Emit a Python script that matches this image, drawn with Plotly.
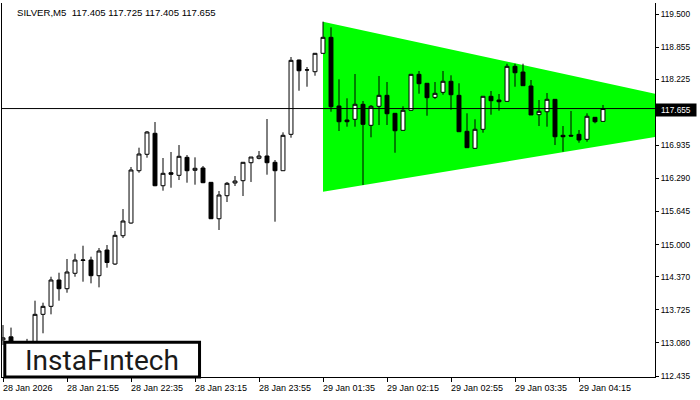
import plotly.graph_objects as go

# ---- data ----
opens = [113.14, 113.20, 113.04, 112.85, 113.02, 113.639, 113.795, 114.309, 114.139, 114.44,
         114.69, 114.699, 114.393, 114.894, 114.621, 115.173, 115.421, 116.442, 116.762, 117.172,
         116.149, 116.403, 116.352, 116.703, 116.45, 116.495, 116.215, 115.505, 115.954, 116.202,
         116.247, 116.598, 116.684, 116.729, 116.606, 116.442, 117.152, 118.602, 118.407, 118.374,
         118.733, 119.045, 117.705, 117.431, 117.445, 117.738, 117.328, 117.699, 117.913, 117.562,
         117.23, 117.621, 118.323, 118.148, 117.874, 117.972, 118.187, 117.913, 117.211, 116.879,
         117.25, 117.894, 117.822, 117.796, 118.479, 118.368, 118.095, 117.535, 117.593, 117.835,
         117.133, 117.133, 117.152, 117.055, 117.484, 117.405]
highs = [113.43, 113.38, 113.10, 113.16, 113.905, 113.866, 114.373, 114.451, 114.719, 114.822,
         114.978, 114.764, 114.933, 114.992, 115.265, 115.694, 116.514, 116.891, 117.217, 117.392,
         116.69, 116.807, 116.943, 116.748, 116.703, 116.534, 116.22, 116.046, 116.222, 116.338,
         116.61, 116.71, 116.826, 117.451, 116.651, 117.191, 118.661, 118.61, 118.466, 118.74,
         119.35, 119.24, 118.226, 117.855, 118.329, 117.802, 117.724, 118.29, 118.173, 117.565,
         117.699, 118.33, 118.388, 118.15, 118.173, 118.388, 118.304, 118.148, 117.562, 117.445,
         117.9, 117.997, 117.939, 118.53, 118.53, 118.53, 118.212, 117.822, 117.958, 117.84,
         117.314, 117.607, 117.236, 117.562, 117.49, 117.725]
lows = [113.04, 112.98, 112.83, 112.75, 112.98, 113.269, 113.639, 113.905, 114.061, 114.373,
        114.276, 114.244, 114.166, 114.549, 114.602, 115.128, 115.408, 116.403, 116.696, 116.14,
        116.052, 116.11, 116.26, 116.208, 116.169, 116.2, 115.50, 115.285, 115.831, 116.143,
        115.948, 116.222, 116.664, 116.364, 115.447, 116.44, 117.086, 118.003, 118.081, 118.296,
        118.73, 117.593, 117.217, 117.301, 117.301, 116.163, 117.094, 117.334, 117.334, 116.793,
        117.23, 117.62, 117.945, 117.515, 117.841, 117.925, 117.632, 117.2, 116.89, 116.878,
        117.184, 117.535, 117.613, 117.796, 118.081, 118.10, 117.529, 117.314, 117.301, 116.943,
        116.813, 117.105, 116.988, 117.008, 117.367, 117.405]
closes = [113.18, 113.10, 112.94, 113.02, 113.639, 113.795, 114.309, 114.139, 114.465, 114.699,
          114.70, 114.393, 114.875, 114.65, 115.181, 115.46, 116.456, 116.768, 117.197, 116.149,
          116.391, 116.372, 116.723, 116.442, 116.489, 116.208, 115.505, 115.968, 116.196, 116.241,
          116.606, 116.709, 116.729, 116.598, 116.442, 117.133, 118.596, 118.393, 118.41, 118.733,
          119.045, 117.691, 117.398, 117.398, 117.738, 117.347, 117.699, 117.913, 117.554, 117.222,
          117.621, 118.323, 118.14, 117.867, 117.952, 118.187, 117.925, 117.203, 116.891, 117.25,
          117.894, 117.808, 117.788, 118.479, 118.354, 118.101, 117.53, 117.601, 117.835, 117.105,
          117.105, 117.119, 117.041, 117.504, 117.398, 117.655]
bars = list(range(len(closes)))

# time axis labels (bar index -> label)
tick_bars = [0, 8, 16, 24, 32, 40, 48, 56, 64, 72]
tick_labels = ["28 Jan 2026", "28 Jan 21:55", "28 Jan 22:35", "28 Jan 23:15", "28 Jan 23:55",
               "29 Jan 01:35", "29 Jan 02:15", "29 Jan 02:55", "29 Jan 03:35", "29 Jan 04:15"]

# price axis labels
price_ticks = [119.5, 118.855, 118.225, 117.58, 116.935, 116.29, 115.645, 115.0,
               114.37, 113.725, 113.08, 112.435]
price_labels = ["119.500", "118.855", "118.225", "117.580", "116.935", "116.290", "115.645",
                "115.000", "114.370", "113.725", "113.080", "112.435"]

# symmetrical triangle pattern (bar index, price)
tri_bars = [40, 81.6, 81.6, 40]
tri_prices = [119.35, 117.94, 117.10, 116.03]

symbol = "SILVER,M5"
last_bar = {"open": 117.405, "high": 117.725, "low": 117.405, "close": 117.655}
current_price = 117.655

FONT = "Liberation Sans, Arial, sans-serif"

fig = go.Figure()

fig.add_trace(go.Candlestick(
    x=bars, open=opens, high=highs, low=lows, close=closes,
    increasing=dict(line=dict(color="black", width=1), fillcolor="white"),
    decreasing=dict(line=dict(color="black", width=1), fillcolor="black"),
    whiskerwidth=0, showlegend=False))

# triangle pattern drawn beneath the candles
tri_path = "M " + " L ".join(f"{b},{p}" for b, p in zip(tri_bars, tri_prices)) + " Z"
fig.add_shape(type="path", xref="x", yref="y", path=tri_path,
              fillcolor="#00FF00", line=dict(width=0), layer="below")

fig.add_hline(y=current_price, line=dict(color="black", width=1))

fig.update_layout(
    width=700, height=400,
    margin=dict(l=2, r=45, t=3, b=23),
    paper_bgcolor="white", plot_bgcolor="white",
    showlegend=False,
    font=dict(family=FONT, color="black", size=9),
    xaxis=dict(
        range=[-0.125, 81.5], rangeslider=dict(visible=False),
        showgrid=False, zeroline=False,
        showline=True, linecolor="black", linewidth=1,
        tickmode="array", tickvals=tick_bars, ticktext=[""] * len(tick_bars),
        ticks="outside", ticklen=4, tickcolor="black", tickwidth=1,
    ),
    yaxis=dict(
        side="right", range=[112.416, 119.715],
        showgrid=False, zeroline=False,
        showline=True, mirror=True, linecolor="black", linewidth=1,
        tickmode="array", tickvals=price_ticks, ticktext=price_labels,
        ticks="outside", ticklen=3, tickcolor="black", tickwidth=1,
        tickfont=dict(size=8.3, family=FONT, color="black"),
    ),
)

# time labels, left-aligned at their ticks
for b, lab in zip(tick_bars, tick_labels):
    fig.add_annotation(
        xref="x", yref="paper", x=b, y=0, xanchor="left", yanchor="top",
        xshift=-2, yshift=-4, showarrow=False, text=lab,
        font=dict(size=9, family=FONT, color="black"))

# title text
fig.add_annotation(
    xref="paper", yref="paper", x=0.0, y=1.0, xshift=13, yshift=-2,
    xanchor="left", yanchor="top", showarrow=False,
    text=f"{symbol}  {last_bar['open']:.3f} {last_bar['high']:.3f} {last_bar['low']:.3f} {last_bar['close']:.3f}",
    font=dict(size=9.6, family=FONT, color="black"))

# current price label
fig.add_annotation(
    xref="paper", yref="y", x=1.0, y=current_price, xanchor="left", yanchor="middle",
    showarrow=False, text=f"{current_price:.3f}", bgcolor="black",
    width=38, height=10, align="center",
    font=dict(size=8.3, family=FONT, color="white"),
    borderpad=1, yshift=-1)

# logo box
fig.add_shape(type="rect", xref="paper", yref="paper", x0=0.0043, x1=0.3025,
              y0=0.0, y1=0.093, line=dict(color="black", width=3), fillcolor="white", layer="above")
fig.add_annotation(
    xref="paper", yref="paper", x=0.1534, y=0.045, xanchor="center", yanchor="middle",
    showarrow=False, text="InstaF\u0131ntech",
    font=dict(size=28, family="Roboto, Inter, sans-serif", color="#1a1a1a"))

fig.write_html("out.html", config={"displayModeBar": False},
               post_script="document.body.style.margin='0px';")
